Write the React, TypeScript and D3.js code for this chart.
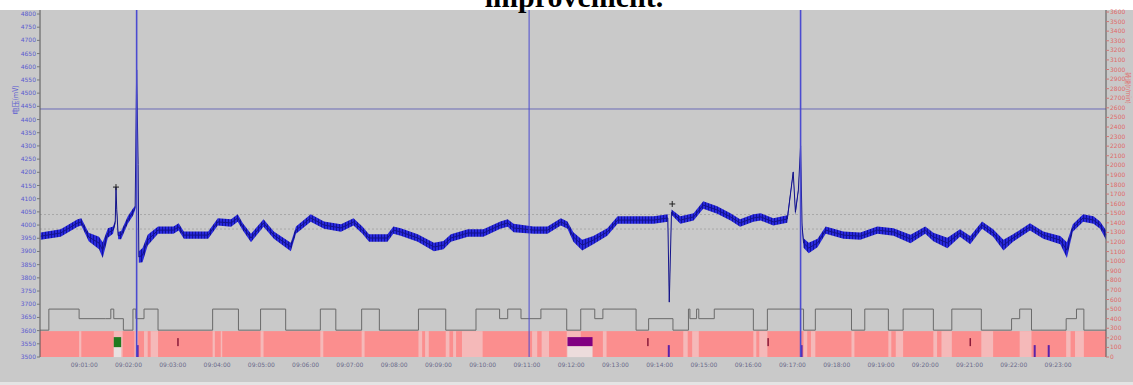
import React from 'react';
import * as d3 from 'd3';

// signal samples: seconds after 09:00:00, voltage (mV), noise half-width (mV)
const sigTime = [1, 28, 51, 56, 66, 80, 85, 92, 99, 102, 103, 104, 106, 110, 119, 126, 129, 131, 133, 134, 139, 146, 160, 181, 188, 195, 228, 241, 259, 268, 275, 286, 303, 317, 340, 347, 367, 385, 408, 425, 437, 446, 471, 479, 489, 512, 534, 547, 557, 580, 601, 624, 634, 642, 669, 688, 706, 715, 723, 735, 750, 769, 783, 805, 832, 851, 853, 856, 868, 886, 899, 918, 936, 949, 967, 977, 994, 1013, 1021, 1024, 1028, 1031, 1033, 1035, 1042, 1054, 1065, 1089, 1112, 1135, 1157, 1180, 1200, 1211, 1230, 1247, 1261, 1277, 1292, 1306, 1319, 1342, 1360, 1383, 1392, 1400, 1414, 1428, 1437, 1445];
const sigValue = [3958, 3970, 4008, 4012, 3955, 3932, 3905, 3970, 3981, 4010, 4144, 4060, 3960, 3962, 4019, 4049, 4065, 4588, 4230, 3879, 3886, 3943, 3981, 3981, 3993, 3962, 3962, 4012, 4008, 4027, 3993, 3951, 4008, 3962, 3917, 3981, 4027, 4000, 3989, 4012, 3981, 3951, 3951, 3981, 3974, 3951, 3917, 3924, 3951, 3970, 3970, 4000, 4008, 3989, 3981, 3981, 4012, 4000, 3955, 3924, 3943, 3974, 4019, 4019, 4019, 4027, 3708, 4049, 4019, 4031, 4076, 4057, 4031, 4008, 4027, 4031, 4012, 4023, 4201, 4049, 4133, 4300, 4000, 3932, 3913, 3932, 3981, 3962, 3958, 3981, 3974, 3947, 3981, 3955, 3932, 3970, 3943, 4000, 3970, 3924, 3951, 3993, 3962, 3943, 3905, 3989, 4027, 4019, 4000, 3962];
const sigNoise = [14, 14, 14, 14, 16, 24, 30, 18, 14, 8, 6, 8, 14, 16, 14, 14, 8, 6, 6, 22, 27, 20, 14, 14, 14, 14, 14, 14, 14, 14, 14, 16, 14, 14, 16, 14, 14, 14, 14, 14, 14, 14, 14, 14, 14, 14, 16, 16, 14, 14, 14, 14, 14, 16, 14, 14, 14, 14, 18, 20, 16, 14, 14, 14, 14, 14, 4, 10, 14, 14, 14, 14, 14, 14, 14, 14, 14, 14, 6, 12, 8, 6, 8, 18, 20, 16, 14, 14, 14, 14, 14, 16, 14, 16, 20, 14, 16, 14, 14, 20, 14, 14, 14, 16, 30, 14, 14, 14, 14, 18];

// reference levels (mV)
const refLevels = [4040, 3985];
const limitLevel = 4440;
const cursorTimes = [131, 663, 1031];
const plusMarks = [[103, 4144], [857, 4080]];

// state step line (right axis)
const stepTime = [0, 12, 53, 89, 96, 100, 113, 126, 130, 141, 160, 234, 269, 299, 333, 380, 401, 436, 460, 513, 550, 591, 623, 634, 652, 679, 714, 733, 752, 763, 808, 825, 858, 879, 881, 890, 893, 914, 967, 986, 1035, 1051, 1100, 1118, 1150, 1170, 1211, 1236, 1276, 1317, 1328, 1344, 1391, 1405, 1415, 1445];
const stepLevel = [280, 500, 400, 400, 500, 400, 280, 500, 400, 500, 280, 500, 280, 500, 280, 500, 280, 500, 280, 500, 280, 500, 400, 500, 400, 500, 280, 500, 400, 500, 280, 400, 280, 500, 400, 500, 400, 500, 280, 500, 280, 500, 280, 500, 280, 500, 280, 500, 280, 400, 500, 280, 400, 500, 280, 280];

// light stripes in the state band: start, end (s)
const lightStart = [53, 100, 128, 141, 150, 234, 245, 299, 380, 436, 513, 522, 550, 560, 572, 667, 680, 714, 763, 872, 884, 967, 975, 1035, 1045, 1100, 1150, 1160, 1211, 1222, 1276, 1328, 1391, 1403];
const lightEnd = [56, 112, 133, 146, 160, 237, 247, 303, 384, 440, 518, 527, 555, 564, 600, 674, 690, 733, 768, 878, 893, 971, 986, 1040, 1051, 1104, 1154, 1170, 1216, 1236, 1292, 1344, 1397, 1415];

// event markers in band: time start, time end, kind
const evStart = [100, 715, 131, 186, 851, 1031, 1347, 1366, 823, 1260, 986];
const evEnd = [110, 749, 132, 187, 853, 1033, 1349, 1368, 824, 1261, 987];
const evKind = ['green', 'purple', 'tick', 'red', 'tick', 'tick', 'tick', 'tick', 'red', 'red', 'red'];

const leftTicks = d3.range(3500, 4801, 50);
const rightTicks = d3.range(0, 3601, 100);
const timeTicks = d3.range(60, 1381, 60);

const W = 1133;
const H = 385;

const fmtTime = (s: number) => {
  const m = Math.floor(s / 60);
  return `09:${String(m).padStart(2, '0')}:00`;
};

export default function App() {
  const x = d3.scaleLinear().domain([0, 1445]).range([40, 1106]);
  const yL = d3.scaleLinear().domain([3500, 4800]).range([357, 14]);
  const yR = d3.scaleLinear().domain([0, 3600]).range([357, 12]);

  const pts = sigTime.map((t, i) => ({ t, v: sigValue[i], n: sigNoise[i] }));
  const band = d3
    .area<{ t: number; v: number; n: number }>()
    .x((d) => x(d.t))
    .y0((d) => yL(d.v - d.n))
    .y1((d) => yL(d.v + d.n));
  const line = d3
    .line<{ t: number; v: number; n: number }>()
    .x((d) => x(d.t))
    .y((d) => yL(d.v));

  const stepPts = stepTime.map((t, i) => [x(t), yR(stepLevel[i])] as [number, number]);
  const stepLine = d3.line().curve(d3.curveStepAfter)(stepPts) || '';

  const bandTop = yR(270);
  const bandBot = yR(0);
  const fontTick = "'DejaVu Sans', sans-serif";

  return (
    <svg width={W} height={H} style={{ position: 'absolute', left: 0, top: 0 }}>
      <defs>
        <pattern id="noise" width={3} height={4} patternUnits="userSpaceOnUse">
          <rect width={3} height={4} fill="#2828dc" />
          <rect width={1} height={4} fill="#12129a" />
        </pattern>
      </defs>
      <rect x={0} y={0} width={W} height={H} fill="#ffffff" />
      <rect x={0} y={10} width={W} height={372} fill="#c9c9c9" />
      <text
        x={574}
        y={7}
        textAnchor="middle"
        fontFamily="'Liberation Serif', 'Times New Roman', serif"
        fontWeight="bold"
        fontSize={30}
        fill="#000"
      >
        improvement.
      </text>

      {/* reference lines */}
      {refLevels.map((v) => (
        <line key={v} x1={40} x2={1106} y1={yL(v)} y2={yL(v)} stroke="#a8a8a8" strokeWidth={1} strokeDasharray="2,2" />
      ))}
      <line x1={40} x2={1106} y1={yL(limitLevel)} y2={yL(limitLevel)} stroke="#6b6bb8" strokeWidth={1} />

      {/* state band */}
      <rect x={40} y={bandTop} width={1066} height={bandBot - bandTop} fill="#fb8e8e" />
      {lightStart.map((s, i) => (
        <rect key={i} x={x(s)} y={bandTop} width={x(lightEnd[i]) - x(s)} height={bandBot - bandTop} fill="#f5b9b9" />
      ))}
      {evStart.map((s, i) => {
        const k = evKind[i];
        if (k === 'green')
          return (
            <g key={i}>
              <rect x={x(s)} y={bandTop + 16} width={x(evEnd[i]) - x(s)} height={10} fill="#e8e0e0" />
              <rect x={x(s)} y={bandTop + 6} width={x(evEnd[i]) - x(s)} height={10} fill="#1f7a1f" />
            </g>
          );
        if (k === 'purple')
          return (
            <g key={i}>
              <rect x={x(s)} y={bandTop + 15} width={x(evEnd[i]) - x(s)} height={11} fill="#ecdcdc" />
              <rect x={x(s)} y={bandTop + 6} width={x(evEnd[i]) - x(s)} height={9} fill="#800080" />
            </g>
          );
        if (k === 'tick')
          return <rect key={i} x={x(s)} y={bandTop + 14} width={Math.max(2, x(evEnd[i]) - x(s))} height={bandBot - bandTop - 14} fill="#5a22a8" />;
        return <rect key={i} x={x(s)} y={bandTop + 7} width={1.5} height={8} fill="#8a1a3a" />;
      })}

      {/* step line */}
      <path d={stepLine} fill="none" stroke="#6a6a6a" strokeWidth={1} />

      {/* signal */}
      <path d={band(pts) || ''} fill="url(#noise)" />
      <path d={line(pts) || ''} fill="none" stroke="#14148a" strokeWidth={1} />
      {plusMarks.map(([t, v], i) => (
        <g key={i} stroke="#202020" strokeWidth={1}>
          <line x1={x(t) - 3} x2={x(t) + 3} y1={yL(v)} y2={yL(v)} />
          <line x1={x(t)} x2={x(t)} y1={yL(v) - 3} y2={yL(v) + 3} />
        </g>
      ))}

      {/* cursors */}
      {cursorTimes.map((t, i) => (
        <line key={t} x1={x(t)} x2={x(t)} y1={10} y2={bandBot} stroke="#4b4bd0" strokeWidth={i === 1 ? 1 : 1.6} />
      ))}

      {/* axes */}
      <line x1={40} x2={40} y1={10} y2={bandBot} stroke="#555" strokeWidth={1} />
      <line x1={1106} x2={1106} y1={10} y2={bandBot} stroke="#555" strokeWidth={1} />
      {leftTicks.map((v) => (
        <g key={v}>
          <line x1={37} x2={40} y1={yL(v)} y2={yL(v)} stroke="#777" />
          <text x={36} y={yL(v) + 2} textAnchor="end" fontSize={6} fontFamily={fontTick} fill="#5a5ad0">
            {v}
          </text>
        </g>
      ))}
      {rightTicks.map((v) => (
        <g key={v}>
          <line x1={1106} x2={1109} y1={yR(v)} y2={yR(v)} stroke="#c77" />
          <text x={1110} y={yR(v) + 2} fontSize={6} fontFamily={fontTick} fill="#e06a6a">
            {v}
          </text>
        </g>
      ))}
      {timeTicks.map((t) => (
        <text key={t} x={x(t)} y={367} textAnchor="middle" fontSize={6} fontFamily={fontTick} fill="#6a6a8a">
          {fmtTime(t)}
        </text>
      ))}
      <text
        transform={`translate(18,100) rotate(-90)`}
        textAnchor="middle"
        fontSize={7}
        fontFamily="'Noto Sans CJK SC', sans-serif"
        fill="#5a5ad0"
      >
        电压(mV)
      </text>
      <text
        transform={`translate(1126,88) rotate(90)`}
        textAnchor="middle"
        fontSize={6}
        fontFamily="'Noto Sans CJK SC', sans-serif"
        fill="#e06a6a"
      >
        转速(r/min)
      </text>
      <rect x={0} y={382} width={W} height={3} fill="#e4e4e4" />
    </svg>
  );
}
